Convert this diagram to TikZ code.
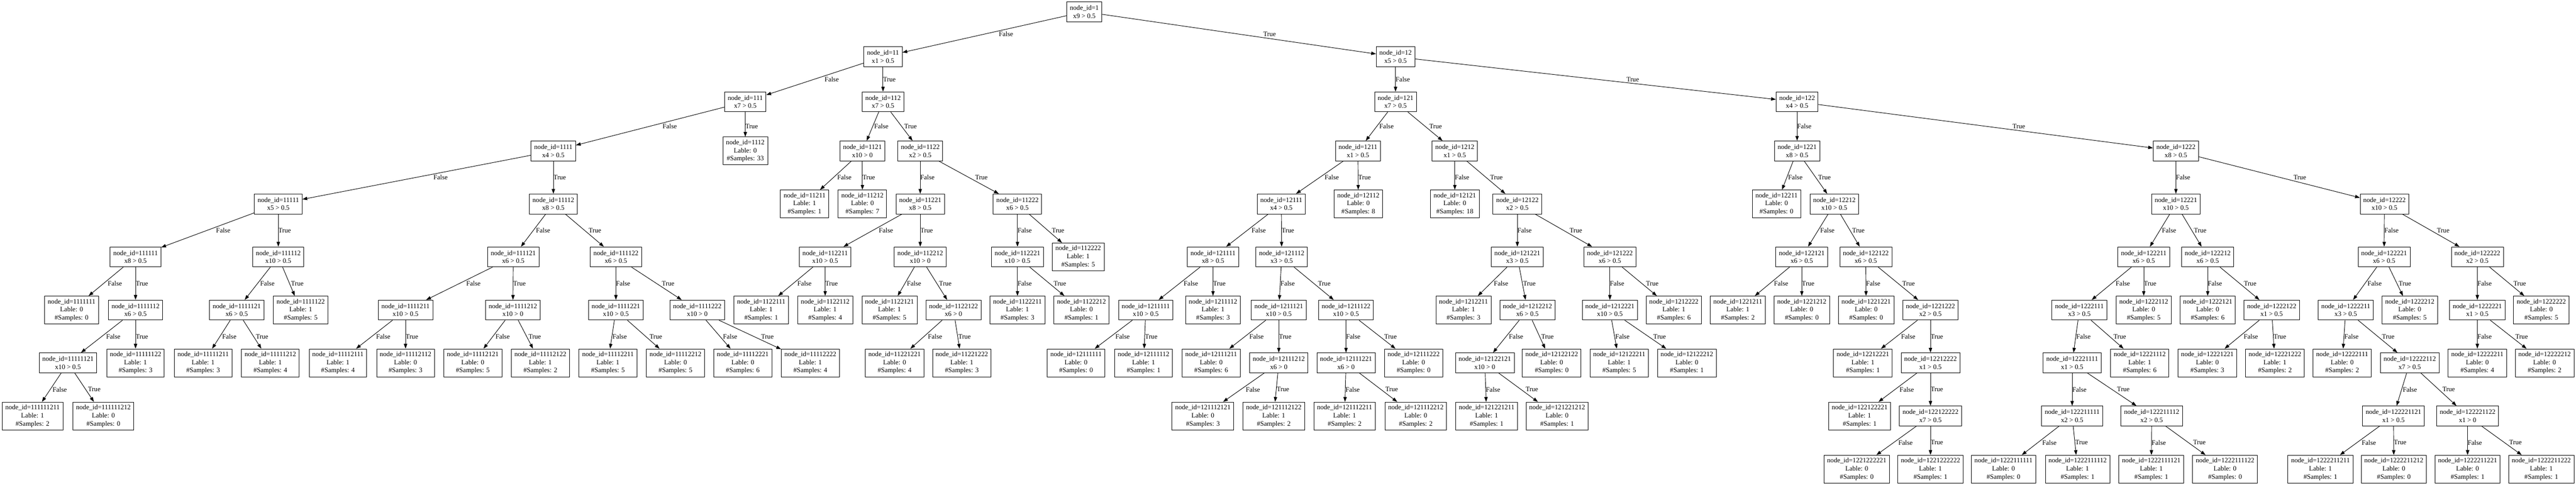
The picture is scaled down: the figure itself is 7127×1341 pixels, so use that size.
\documentclass[tikz,border=0pt]{standalone}
\usepackage{fontspec}
\setmainfont{Liberation Serif}
\usetikzlibrary{arrows.meta,calc}
\tikzset{
 box/.style={draw, line width=1pt, rectangle, align=center, inner xsep=6.5pt, inner ysep=0pt, font=\fontsize{14pt}{16.8pt}\selectfont},
 dec/.style={box, minimum height=41.25pt},
 leaf/.style={box, minimum height=57.75pt},
 edge/.style={line width=1pt, -{Triangle[length=10pt,width=7pt]}},
 lbl/.style={anchor=west, inner sep=0pt, font=\fontsize{14pt}{16.8pt}\selectfont}
}
\newcommand\mkdec[4]{\node[dec] (n#1) at (#2,#3) {node\_id=#1\\#4};}
\newcommand\mkleaf[5]{\node[leaf] (n#1) at (#2,#3) {node\_id=#1\\Lable: #4\\\#Samples: #5};}
\newcommand\mkedge[3]{\draw[edge] (n#1) -- (n#2);
 \path let \p1=(n#1), \p2=(n#2) in node[lbl] at ({0.5*\x1+0.5*\x2+7pt*abs(\x2-\x1)/(\y1-\y2)},{0.5*\y1+0.5*\y2}) {#3};}
\newcommand\kids[1]{\mkedge{#1}{#11}{False}\mkedge{#1}{#12}{True}}
\begin{document}
\begin{tikzpicture}[x=0.75pt,y=-0.75pt]
\fill[white] (0,0) rectangle (7127,1341);
\useasboundingbox (0,0) rectangle (7127,1341);
% level 0
\mkdec{1}{3000}{32.5}{x9 > 0.5}
% level 1
\mkdec{11}{2443}{157}{x1 > 0.5}
\mkdec{12}{3861}{157}{x5 > 0.5}
% level 2
\mkdec{111}{2062}{281.5}{x7 > 0.5}
\mkdec{112}{2443}{281.5}{x7 > 0.5}
\mkdec{121}{3861}{281.5}{x7 > 0.5}
\mkdec{122}{4972}{281.5}{x4 > 0.5}
% level 3
\mkdec{1111}{1531}{417.5}{x4 > 0.5}
\mkleaf{1112}{2062}{417.5}{0}{33}
\mkdec{1121}{2386}{417.5}{x10 > 0}
\mkdec{1122}{2546}{417.5}{x2 > 0.5}
\mkdec{1211}{3757}{417.5}{x1 > 0.5}
\mkdec{1212}{4025}{417.5}{x1 > 0.5}
\mkdec{1221}{4972}{417.5}{x8 > 0.5}
\mkdec{1222}{6020}{417.5}{x8 > 0.5}
% level 4
\mkdec{11111}{770}{564}{x5 > 0.5}
\mkdec{11112}{1531}{564}{x8 > 0.5}
\mkleaf{11211}{2226}{564}{1}{1}
\mkleaf{11212}{2386}{564}{0}{7}
\mkdec{11221}{2546}{564}{x8 > 0.5}
\mkdec{11222}{2815}{564}{x6 > 0.5}
\mkdec{12111}{3545}{564}{x4 > 0.5}
\mkleaf{12112}{3758}{564}{0}{8}
\mkleaf{12121}{4025}{564}{0}{18}
\mkdec{12122}{4198}{564}{x2 > 0.5}
\mkleaf{12211}{4915}{564}{0}{0}
\mkdec{12212}{5075}{564}{x10 > 0.5}
\mkdec{12221}{6020}{564}{x10 > 0.5}
\mkdec{12222}{6597}{564}{x10 > 0.5}
% level 5
\mkdec{111111}{375}{710.5}{x8 > 0.5}
\mkdec{111112}{770}{710.5}{x10 > 0.5}
\mkdec{111121}{1420}{710.5}{x6 > 0.5}
\mkdec{111122}{1704}{710.5}{x6 > 0.5}
\mkdec{112211}{2283}{710.5}{x10 > 0.5}
\mkdec{112212}{2546}{710.5}{x10 > 0}
\mkdec{112221}{2815}{710.5}{x10 > 0.5}
\mkleaf{112222}{2983}{710.5}{1}{5}
\mkdec{121111}{3356}{710.5}{x8 > 0.5}
\mkdec{121112}{3546}{710.5}{x3 > 0.5}
\mkdec{121221}{4198}{710.5}{x3 > 0.5}
\mkdec{121222}{4454}{710.5}{x6 > 0.5}
\mkdec{122121}{4985}{710.5}{x6 > 0.5}
\mkdec{122122}{5162}{710.5}{x6 > 0.5}
\mkdec{122211}{5931}{710.5}{x6 > 0.5}
\mkdec{122212}{6108}{710.5}{x6 > 0.5}
\mkdec{122221}{6596}{710.5}{x6 > 0.5}
\mkdec{122222}{6854}{710.5}{x2 > 0.5}
% level 6
\mkleaf{1111111}{198}{857.5}{0}{0}
\mkdec{1111112}{375}{857.5}{x6 > 0.5}
\mkdec{1111121}{655}{857.5}{x6 > 0.5}
\mkleaf{1111122}{832}{857.5}{1}{5}
\mkdec{1111211}{1122}{857.5}{x10 > 0.5}
\mkdec{1111212}{1419}{857.5}{x10 > 0}
\mkdec{1111221}{1704}{857.5}{x10 > 0.5}
\mkdec{1111222}{1929}{857.5}{x10 > 0}
\mkleaf{1122111}{2106}{857.5}{1}{1}
\mkleaf{1122112}{2283}{857.5}{1}{4}
\mkleaf{1122121}{2461}{857.5}{1}{5}
\mkdec{1122122}{2638}{857.5}{x6 > 0}
\mkleaf{1122211}{2815}{857.5}{1}{3}
\mkleaf{1122212}{2992}{857.5}{0}{1}
\mkdec{1211111}{3170}{857.5}{x10 > 0.5}
\mkleaf{1211112}{3356}{857.5}{1}{3}
\mkdec{1211121}{3538}{857.5}{x10 > 0.5}
\mkdec{1211122}{3724}{857.5}{x10 > 0.5}
\mkleaf{1212211}{4049}{857.5}{1}{3}
\mkdec{1212212}{4226}{857.5}{x6 > 0.5}
\mkdec{1212221}{4454}{857.5}{x10 > 0.5}
\mkleaf{1212222}{4631}{857.5}{1}{6}
\mkleaf{1221211}{4808}{857.5}{1}{2}
\mkleaf{1221212}{4985}{857.5}{0}{0}
\mkleaf{1221221}{5163}{857.5}{0}{0}
\mkdec{1221222}{5341}{857.5}{x2 > 0.5}
\mkdec{1222111}{5753}{857.5}{x3 > 0.5}
\mkleaf{1222112}{5931}{857.5}{0}{5}
\mkleaf{1222121}{6108}{857.5}{0}{6}
\mkdec{1222122}{6285}{857.5}{x1 > 0.5}
\mkdec{1222211}{6490}{857.5}{x3 > 0.5}
\mkleaf{1222212}{6667}{857.5}{0}{5}
\mkdec{1222221}{6854}{857.5}{x1 > 0.5}
\mkleaf{1222222}{7031}{857.5}{0}{5}
% level 7
\mkdec{11111121}{188}{1003.5}{x10 > 0.5}
\mkleaf{11111122}{375}{1003.5}{1}{3}
\mkleaf{11111211}{562}{1003.5}{1}{3}
\mkleaf{11111212}{748}{1003.5}{1}{4}
\mkleaf{11112111}{935}{1003.5}{1}{4}
\mkleaf{11112112}{1122}{1003.5}{0}{3}
\mkleaf{11112121}{1308}{1003.5}{0}{5}
\mkleaf{11112122}{1495}{1003.5}{1}{2}
\mkleaf{11112211}{1682}{1003.5}{1}{5}
\mkleaf{11112212}{1869}{1003.5}{0}{5}
\mkleaf{11112221}{2055}{1003.5}{0}{6}
\mkleaf{11112222}{2242}{1003.5}{1}{4}
\mkleaf{11221221}{2475}{1003.5}{0}{4}
\mkleaf{11221222}{2661}{1003.5}{1}{3}
\mkleaf{12111111}{2977}{1003.5}{0}{0}
\mkleaf{12111112}{3164}{1003.5}{1}{1}
\mkleaf{12111211}{3351}{1003.5}{0}{6}
\mkdec{12111212}{3538}{1003.5}{x6 > 0}
\mkdec{12111221}{3724}{1003.5}{x6 > 0}
\mkleaf{12111222}{3911}{1003.5}{0}{0}
\mkdec{12122121}{4108}{1003.5}{x10 > 0}
\mkleaf{12122122}{4293}{1003.5}{0}{0}
\mkleaf{12122211}{4480}{1003.5}{1}{5}
\mkleaf{12122212}{4667}{1003.5}{0}{1}
\mkleaf{12212221}{5154}{1003.5}{1}{1}
\mkdec{12212222}{5341}{1003.5}{x1 > 0.5}
\mkdec{12221111}{5733}{1003.5}{x1 > 0.5}
\mkleaf{12221112}{5920}{1003.5}{1}{6}
\mkleaf{12221221}{6107}{1003.5}{0}{3}
\mkleaf{12221222}{6294}{1003.5}{1}{2}
\mkleaf{12222111}{6480}{1003.5}{0}{2}
\mkdec{12222112}{6667}{1003.5}{x7 > 0.5}
\mkleaf{12222211}{6854}{1003.5}{0}{4}
\mkleaf{12222212}{7040}{1003.5}{0}{2}
% level 8
\mkleaf{111111211}{90}{1150.5}{1}{2}
\mkleaf{111111212}{286}{1150.5}{0}{0}
\mkleaf{121112121}{3328}{1150.5}{0}{3}
\mkleaf{121112122}{3524}{1150.5}{1}{2}
\mkleaf{121112211}{3720}{1150.5}{1}{2}
\mkleaf{121112212}{3917}{1150.5}{0}{2}
\mkleaf{121221211}{4113}{1150.5}{1}{1}
\mkleaf{121221212}{4308}{1150.5}{0}{1}
\mkleaf{122122221}{5145}{1150.5}{1}{1}
\mkdec{122122222}{5341}{1150.5}{x7 > 0.5}
\mkdec{122211111}{5733}{1150.5}{x2 > 0.5}
\mkdec{122211112}{5953}{1150.5}{x2 > 0.5}
\mkdec{122221121}{6622}{1150.5}{x1 > 0.5}
\mkdec{122221122}{6827}{1150.5}{x1 > 0}
% level 9
\mkleaf{1221222221}{5137}{1297.5}{0}{0}
\mkleaf{1221222222}{5341}{1297.5}{1}{1}
\mkleaf{1222111111}{5543}{1297.5}{0}{0}
\mkleaf{1222111112}{5748}{1297.5}{1}{1}
\mkleaf{1222111121}{5952}{1297.5}{1}{1}
\mkleaf{1222111122}{6156}{1297.5}{0}{0}
\mkleaf{1222211211}{6420}{1297.5}{1}{1}
\mkleaf{1222211212}{6623}{1297.5}{0}{0}
\mkleaf{1222211221}{6827}{1297.5}{0}{1}
\mkleaf{1222211222}{7031}{1297.5}{1}{1}
% edges
\kids{1}
\kids{11}\kids{12}
\kids{111}\kids{112}\kids{121}\kids{122}
\kids{1111}\kids{1121}\kids{1122}\kids{1211}\kids{1212}\kids{1221}\kids{1222}
\kids{11111}\kids{11112}\kids{11221}\kids{11222}\kids{12111}\kids{12122}\kids{12212}\kids{12221}\kids{12222}
\kids{111111}\kids{111112}\kids{111121}\kids{111122}\kids{112211}\kids{112212}\kids{112221}
\kids{121111}\kids{121112}\kids{121221}\kids{121222}\kids{122121}\kids{122122}
\kids{122211}\kids{122212}\kids{122221}\kids{122222}
\kids{1111112}\kids{1111121}\kids{1111211}\kids{1111212}\kids{1111221}\kids{1111222}
\kids{1122122}\kids{1211111}\kids{1211121}\kids{1211122}\kids{1212212}\kids{1212221}
\kids{1221222}\kids{1222111}\kids{1222122}\kids{1222211}\kids{1222221}
\kids{11111121}\kids{12111212}\kids{12111221}\kids{12122121}\kids{12212222}\kids{12221111}\kids{12222112}
\kids{122122222}\kids{122211111}\kids{122211112}\kids{122221121}\kids{122221122}
\end{tikzpicture}
\end{document}
